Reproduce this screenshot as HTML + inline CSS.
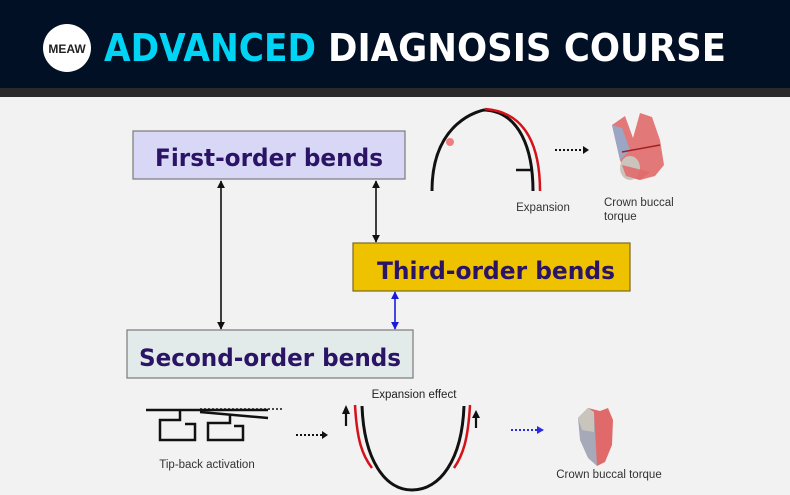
<!DOCTYPE html>
<html><head><style>
html,body{margin:0;padding:0;background:#f2f2f2;}
body{width:790px;height:495px;overflow:hidden;position:relative;font-family:"Liberation Sans",sans-serif;}
</style></head><body>
<svg width="790" height="495" xmlns="http://www.w3.org/2000/svg" style="position:absolute;left:0;top:0">
<defs>
<marker id="ak" viewBox="0 0 10 10" refX="9" refY="5" markerWidth="5" markerHeight="5" orient="auto-start-reverse"><path d="M0,0 L10,5 L0,10 z" fill="#111"/></marker>
<marker id="ab" viewBox="0 0 10 10" refX="9" refY="5" markerWidth="5" markerHeight="5" orient="auto-start-reverse"><path d="M0,0 L10,5 L0,10 z" fill="#1a1adf"/></marker>
</defs>
<rect x="0" y="0" width="790" height="495" fill="#f2f2f2"/>
<rect x="0" y="0" width="790" height="88" fill="#021026"/>
<rect x="0" y="88" width="790" height="9" fill="#2a2a2a"/>
<circle cx="67" cy="48" r="24" fill="#fff"/>
<text x="67" y="53" font-size="12" font-weight="bold" text-anchor="middle" fill="#222" font-family="Liberation Sans">MEAW</text>
<text x="104" y="61" font-size="38" font-weight="bold" fill="#00d4f5" font-family="DejaVu Sans" textLength="212" lengthAdjust="spacingAndGlyphs">ADVANCED</text>
<text x="328" y="61" font-size="38" font-weight="bold" fill="#fff" font-family="DejaVu Sans" textLength="398" lengthAdjust="spacingAndGlyphs">DIAGNOSIS COURSE</text>

<rect x="133" y="131" width="272" height="48" fill="#d8d8f6" stroke="#7a7a7a" stroke-width="1.2"/>
<text x="269" y="166" font-size="24" font-weight="bold" fill="#2b1465" text-anchor="middle" font-family="DejaVu Sans" textLength="228" lengthAdjust="spacingAndGlyphs">First-order bends</text>
<rect x="353" y="243" width="277" height="48" fill="#efc200" stroke="#7a6a20" stroke-width="1.2"/>
<text x="496" y="279" font-size="24" font-weight="bold" fill="#2b1465" text-anchor="middle" font-family="DejaVu Sans" textLength="238" lengthAdjust="spacingAndGlyphs">Third-order bends</text>
<rect x="127" y="330" width="286" height="48" fill="#e3ebea" stroke="#7a7a7a" stroke-width="1.2"/>
<text x="270" y="366" font-size="24" font-weight="bold" fill="#2b1465" text-anchor="middle" font-family="DejaVu Sans" textLength="262" lengthAdjust="spacingAndGlyphs">Second-order bends</text>

<line x1="221" y1="181" x2="221" y2="329" stroke="#111" stroke-width="1.6" marker-start="url(#ak)" marker-end="url(#ak)"/>
<line x1="376" y1="181" x2="376" y2="242" stroke="#111" stroke-width="1.6" marker-start="url(#ak)" marker-end="url(#ak)"/>
<line x1="395" y1="292" x2="395" y2="329" stroke="#1a1adf" stroke-width="1.6" marker-start="url(#ab)" marker-end="url(#ab)"/>

<!-- top arch -->
<path d="M432,191 C432,120 482,110 485,110" fill="none" stroke="#111" stroke-width="3"/>
<path d="M485,110 C520,112 533,150 533,191" fill="none" stroke="#111" stroke-width="3"/>
<path d="M485,109 C528,112 540,150 540,191" fill="none" stroke="#d4121a" stroke-width="2.5"/>
<circle cx="450" cy="142" r="4" fill="#f06060" opacity="0.8"/>
<line x1="516" y1="170" x2="533" y2="170" stroke="#111" stroke-width="2.5"/>
<line x1="555" y1="150" x2="583" y2="150" stroke="#111" stroke-width="2" stroke-dasharray="2,2"/>
<path d="M583,146 L589,150 L583,154 z" fill="#111"/>
<text x="543" y="211" font-size="11.5" fill="#333" text-anchor="middle">Expansion</text>
<text x="604" y="206" font-size="11.5" fill="#333">Crown buccal</text>
<text x="604" y="220" font-size="11.5" fill="#333">torque</text>
<!-- top tooth -->
<path d="M612,125 L625,116 L633,138 L640,113 L652,117 L660,140 L664,165 L655,176 L640,180 L626,176 L620,160 Z" fill="#e06a6a" opacity="0.9"/>
<path d="M620,160 L612,125 L622,128 L630,150 Z" fill="#9aa6c4"/>
<ellipse cx="630" cy="168" rx="10" ry="12" fill="#c9c5bd"/>
<path d="M650,172 L640,180 L626,176 L622,165 Z" fill="#e06a6a" opacity="0.9"/>
<path d="M622,152 L660,145" stroke="#a02020" stroke-width="1.5"/>

<!-- bottom wire -->
<path d="M146,410 L268,410" stroke="#111" stroke-width="2.5" fill="none"/>
<line x1="200" y1="409" x2="284" y2="409" stroke="#111" stroke-width="1.5" stroke-dasharray="2,2"/>
<path d="M200,412 L268,418" stroke="#111" stroke-width="2.5" fill="none"/>
<path d="M180,410 L180,420 L160,420 L160,440 L195,440 L195,424 L185,424" stroke="#111" stroke-width="2.5" fill="none"/>
<path d="M230,414 L230,423 L208,423 L208,440 L243,440 L243,426 L234,426" stroke="#111" stroke-width="2.5" fill="none"/>
<text x="207" y="468" font-size="11.5" fill="#333" text-anchor="middle">Tip-back activation</text>
<line x1="296" y1="435" x2="322" y2="435" stroke="#111" stroke-width="2" stroke-dasharray="2,2"/>
<path d="M322,431 L328,435 L322,439 z" fill="#111"/>

<!-- U arch -->
<path d="M362,406 C364,460 385,490 412,490 C440,490 462,460 464,406" fill="none" stroke="#111" stroke-width="3"/>
<path d="M355,405 C357,440 362,455 372,468" fill="none" stroke="#d4121a" stroke-width="2.5"/>
<path d="M470,405 C468,440 463,455 454,468" fill="none" stroke="#d4121a" stroke-width="2.5"/>
<line x1="346" y1="426" x2="346" y2="412" stroke="#111" stroke-width="2.2"/>
<path d="M342,414 L346,405 L350,414 z" fill="#111"/>
<line x1="476" y1="428" x2="476" y2="416" stroke="#111" stroke-width="2.2"/>
<path d="M472,418 L476,410 L480,418 z" fill="#111"/>
<text x="414" y="398" font-size="11.5" fill="#222" text-anchor="middle">Expansion effect</text>
<line x1="511" y1="430" x2="537" y2="430" stroke="#2a2ae0" stroke-width="2" stroke-dasharray="2,2"/>
<path d="M537,426 L544,430 L537,434 z" fill="#2a2ae0"/>

<!-- bottom tooth -->
<path d="M578,418 L588,408 L600,411 L608,408 L613,420 L612,445 L605,462 L597,466 Z" fill="#e06a6a"/>
<path d="M578,418 L588,408 L594,412 L597,466 L588,458 L580,440 Z" fill="#a6a9b8"/>
<path d="M578,418 L588,408 L594,412 L594,432 L582,430 Z" fill="#c9c5bd"/>
<text x="609" y="478" font-size="11.5" fill="#333" text-anchor="middle">Crown buccal torque</text>
</svg>
</body></html>
